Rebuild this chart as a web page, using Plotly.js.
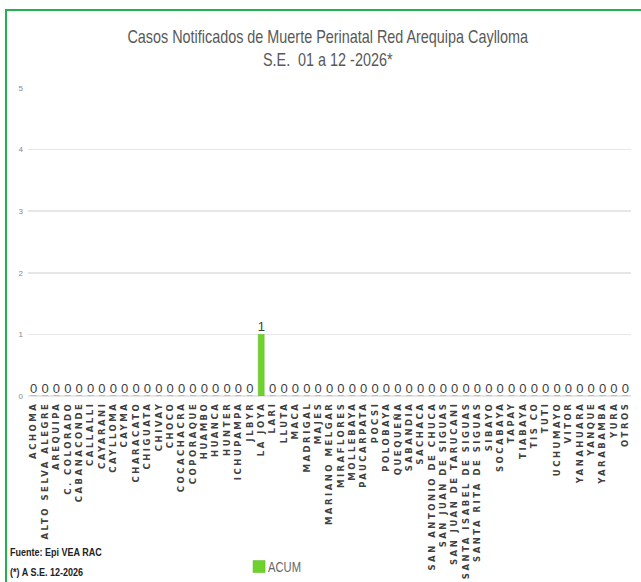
<!DOCTYPE html>
<html>
<head>
<meta charset="utf-8">
<script src="https://cdn.plot.ly/plotly-3.0.1.min.js"></script>
<style>
html,body{margin:0;padding:0;background:#fff;}
#chart{width:641px;height:582px;}
.xtick text{letter-spacing:2.5px;}
g.annotation[data-index="0"] text{transform-box:fill-box;transform-origin:center;transform:scaleX(0.8);}
g.annotation[data-index="1"] text, g.annotation[data-index="2"] text{transform-box:fill-box;transform-origin:left center;transform:scaleX(0.82);}
.legendtext{transform-box:fill-box;transform-origin:left center;transform:translateX(-11px) scaleX(0.8);}
</style>
</head>
<body>
<div id="chart"></div>
<script>
const categories = ["ACHOMA","ALTO SELVA ALEGRE","AREQUIPA","C. COLORADO","CABANACONDE","CALLALLI","CAYARANI","CAYLLOMA","CAYMA","CHARACATO","CHIGUATA","CHIVAY","CHOCO","COCACHACRA","COPORAQUE","HUAMBO","HUANCA","HUNTER","ICHUPAMPA","JLBYR","LA JOYA","LARI","LLUTA","MACA","MADRIGAL","MAJES","MARIANO MELGAR","MIRAFLORES","MOLLEBAYA","PAUCARPATA","POCSI","POLOBAYA","QUEQUEÑA","SABANDIA","SACHACA","SAN ANTONIO DE CHUCA","SAN JUAN DE SIGUAS","SAN JUAN DE TARUCANI","SANTA ISABEL DE SIGUAS","SANTA RITA DE SIGUAS","SIBAYO","SOCABAYA","TAPAY","TIABAYA","TIS CO","TUTI","UCHUMAYO","VITOR","YANAHUARA","YANQUE","YARABAMBA","YURA","OTROS"];
const acum = [0,0,0,0,0,0,0,0,0,0,0,0,0,0,0,0,0,0,0,0,1,0,0,0,0,0,0,0,0,0,0,0,0,0,0,0,0,0,0,0,0,0,0,0,0,0,0,0,0,0,0,0,0];
const yTicks = [0,1,2,3,4,5];
const seriesName = "ACUM";
const titleText = "Casos Notificados de Muerte Perinatal Red Arequipa Caylloma<br>S.E.  01 a 12 -2026*";
const notes = ["Fuente: Epi VEA RAC", "(*) A S.E. 12-2026"];

const trace = {
  type: 'bar',
  x: categories,
  y: acum,
  name: seriesName,
  marker: {color: '#6fd22c', line: {color: '#5cb820', width: 0.5}},
  width: 0.52,
  text: acum.map(String),
  textposition: 'outside',
  constraintext: 'none',
  cliponaxis: false,
  textfont: {family: 'Liberation Sans, Arial, sans-serif', size: 13, color: '#404040'},
  showlegend: true
};

const layout = {
  width: 641, height: 582,
  margin: {l: 28, r: 10, t: 88, b: 186, autoexpand: false},
  paper_bgcolor: '#ffffff',
  plot_bgcolor: '#ffffff',
  xaxis: {
    type: 'category',
    tickmode: 'array',
    tickvals: categories,
    ticktext: categories,
    tickangle: -90,
    tickfont: {family: 'DejaVu Sans, Verdana, sans-serif', size: 8.5, color: '#404040', weight: 'bold'},
    ticklabelstandoff: 3,
    showgrid: false,
    showline: false,
    ticks: '',
    automargin: false,
    range: [-0.5, categories.length - 0.5]
  },
  yaxis: {
    range: [0, 5],
    tickvals: yTicks,
    tickfont: {family: 'Liberation Sans, Arial, sans-serif', size: 8, color: '#888888'},
    showgrid: true,
    gridcolor: '#e6e6e6',
    gridwidth: 1.5,
    zeroline: true,
    zerolinecolor: '#e6e6e6',
    zerolinewidth: 1.5,
    showline: false,
    ticks: '',
    ticklabelstandoff: 4,
    automargin: false
  },
  legend: {
    orientation: 'h',
    x: 0.35, xanchor: 'left',
    y: -0.555, yanchor: 'middle',
    font: {family: 'Liberation Sans, Arial, sans-serif', size: 14, color: '#666666'},
    bgcolor: 'rgba(0,0,0,0)'
  },
  shapes: [{
    type: 'rect', xref: 'paper', yref: 'paper',
    x0: -0.0365, x1: 1.2, y0: -1.0, y1: 1.253,
    line: {color: '#22b14c', width: 2}, fillcolor: 'rgba(0,0,0,0)', layer: 'below'
  }],
  annotations: [
    {text: titleText, xref: 'paper', yref: 'paper', x: 0.4975, y: 1.205, xanchor: 'center', yanchor: 'top', showarrow: false, align: 'center',
     font: {family: 'Liberation Sans, Arial, sans-serif', size: 18, color: '#595959'}},
    {text: notes[0], xref: 'paper', yref: 'paper', x: -0.0332, y: -0.5065, xanchor: 'left', yanchor: 'middle', showarrow: false,
     font: {family: 'Liberation Sans, Arial, sans-serif', size: 11, color: '#222222', weight: 'bold'}},
    {text: notes[1], xref: 'paper', yref: 'paper', x: -0.0332, y: -0.571, xanchor: 'left', yanchor: 'middle', showarrow: false,
     font: {family: 'Liberation Sans, Arial, sans-serif', size: 11, color: '#222222', weight: 'bold'}}
  ]
};

Plotly.newPlot('chart', [trace], layout, {displayModeBar: false, staticPlot: true});
</script>
</body>
</html>
